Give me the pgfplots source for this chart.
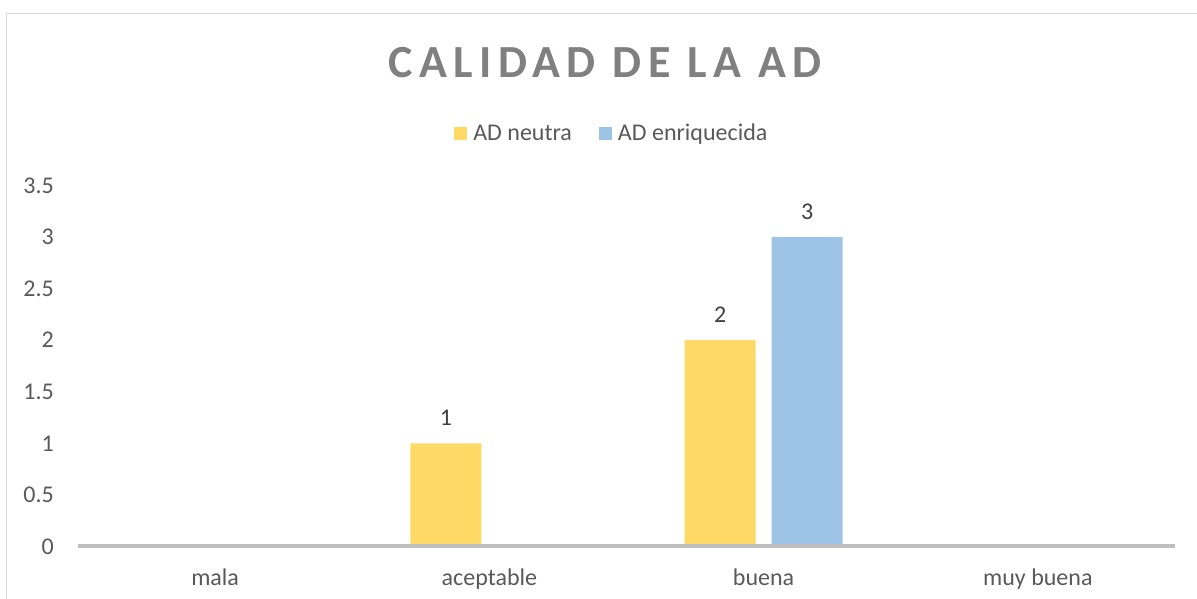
\documentclass[border=0pt]{standalone}
\usepackage{pgfplots}
\pgfplotsset{compat=1.18}
\usepackage{fontspec}
\setmainfont{Carlito}
\newfontfamily\titlefont[LetterSpace=14]{Carlito}
\definecolor{barY}{HTML}{FFD966}
\definecolor{barB}{HTML}{9DC3E6}
\definecolor{txt}{HTML}{595959}
\definecolor{ttl}{HTML}{808080}
\definecolor{lbl}{HTML}{404040}
\definecolor{axl}{HTML}{BFBFBF}
\definecolor{brd}{HTML}{D9D9D9}
\begin{document}
\begin{tikzpicture}
\begin{axis}[
  at={(58.5pt,39.375pt)}, anchor=south west,
  scale only axis, width=822.75pt, height=270.75pt,
  xmin=-0.5, xmax=3.5, ymin=0, ymax=3.5,
  ybar=12pt, bar width=53.25pt,
  axis line style={draw=none},
  major tick length=0pt,
  xtick={0,1,2,3},
  xticklabels={mala,aceptable,buena,muy buena},
  ytick={0,0.5,1,1.5,2,2.5,3,3.5},
  yticklabels={0,0.5,1,1.5,2,2.5,3,3.5},
  tick label style={font=\fontsize{18pt}{20pt}\selectfont, text=txt, inner sep=0pt},
  yticklabel style={anchor=east, xshift=-18pt},
  xticklabel style={anchor=base, yshift=-29pt},
  /pgf/number format/assume math mode=true,
  nodes near coords={\pgfmathfloatifflags{\pgfplotspointmeta}{0}{}{\pgfmathprintnumber{\pgfplotspointmeta}}},
  every node near coord/.append style={font=\fontsize{18pt}{20pt}\selectfont, text=lbl, anchor=base, inner sep=0pt, yshift=13.2pt},
  legend image code/.code={\fill[#1] (0pt,0.6pt) rectangle (9.75pt,10.35pt);},
  legend columns=2,
  legend style={draw=none, fill=none, inner sep=0pt, column sep=4.5pt,
    font=\fontsize{18pt}{20pt}\selectfont, text=txt,
    nodes={inner sep=0pt, anchor=base west},
    /tikz/every even column/.append style={column sep=20.25pt},
    at={(0.3428,1.1444)}, anchor=west},
  clip=false,
]
\addplot[fill=barY, draw=none] coordinates {(0,0) (1,1) (2,2) (3,0)};
\addlegendentry{AD neutra}
\addplot[fill=barB, draw=none] coordinates {(0,0) (1,0) (2,3) (3,0)};
\addlegendentry{AD enriquecida}
\draw[axl, line width=3pt] (axis cs:-0.5,0) -- (axis cs:3.5,0);
\node[anchor=base, inner sep=0pt, text=ttl, font=\fontsize{34.5pt}{36pt}\titlefont\bfseries, xshift=0pt] at (axis description cs:0.4804,1.3) {CALIDAD DE LA AD};
\end{axis}
\draw[brd, line width=1.2pt] (5pt,-20pt) -- (5pt,439pt) -- (920pt,439pt);
\pgfresetboundingbox
\useasboundingbox (0,0) rectangle (897.75pt,449.25pt);
\end{tikzpicture}
\end{document}
